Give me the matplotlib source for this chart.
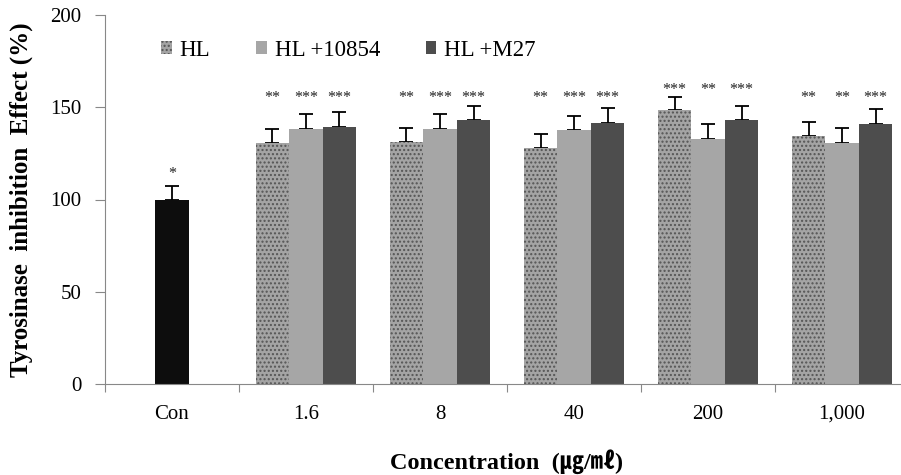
import matplotlib.pyplot as plt
import numpy as np

plt.rcParams['font.family'] = ['Liberation Serif', 'Noto Sans CJK KR', 'DejaVu Sans']

groups = ["Con", "1.6", "8", "40", "200", "1,000"]
con_val = 100
con_err = 7.5
con_star = "*"

series = ["HL", "HL +10854", "HL +M27"]
hl = [130.5, 131, 127.7, 148.5, 134.4]
hl_10854 = [138.2, 138.2, 137.7, 133, 130.5]
hl_m27 = [139.1, 143.1, 141.6, 143.1, 140.9]
hl_err = [7.8, 8, 7.8, 7.2, 7.8]
hl_10854_err = [8, 8, 7.7, 7.9, 8.4]
hl_m27_err = [8.5, 7.7, 8, 7.7, 8.1]
stars = [["**", "***", "***"],
         ["**", "***", "***"],
         ["**", "***", "***"],
         ["***", "**", "***"],
         ["**", "**", "***"]]

fig = plt.figure(figsize=(9.01, 4.75), dpi=100)
ax = fig.add_axes([0.1165, 0.1916, 0.8835, 0.7768])

w = 0.25
x = np.arange(1, len(groups))
ekw = dict(ecolor='black', elinewidth=1.3, capsize=5, capthick=1.3)

ax.bar(0, con_val, w, color='#0d0d0d', zorder=2)
ax.errorbar(0, con_val, yerr=[[0], [con_err]], fmt='none', **ekw, zorder=1)
ax.text(0, con_val + con_err + 2, con_star, ha='center', va='bottom',
        fontsize=11.5, color='#222222')

vals = [hl, hl_10854, hl_m27]
errs = [hl_err, hl_10854_err, hl_m27_err]
styles = [dict(color='#a4a4a4', hatch='....', edgecolor='#555555', linewidth=0),
          dict(color='#a6a6a6'),
          dict(color='#4d4d4d')]
for k in range(3):
    xs = x + (k - 1) * w
    ax.bar(xs, vals[k], w, label=series[k], zorder=2, **styles[k])
    ax.errorbar(xs, vals[k], yerr=[np.zeros(len(x)), errs[k]], fmt='none',
                **ekw, zorder=1)

tops = np.max(np.array(vals) + np.array(errs), axis=0)
for i in range(len(x)):
    sy = max(150.5, tops[i] - 0.5)
    for k in range(3):
        ax.text(x[i] + (k - 1) * w, sy, stars[i][k], ha='center', va='bottom',
                fontsize=11.5, color='#222222')

ax.set_ylim(0, 200)
ax.set_yticks([0, 50, 100, 150, 200])
ax.set_xlim(-0.5, 5.44)
ax.set_xticks(np.arange(-0.5, 5.5, 1))
ax.set_xticklabels([])
ax.set_xticks(np.arange(len(groups)), minor=True)
ax.set_xticklabels(groups, minor=True)
ax.tick_params(axis='x', which='minor', length=0, pad=15, labelsize=15)
ax.tick_params(axis='x', which='major', length=6, color='#888888')
ax.tick_params(axis='y', length=7, pad=10, labelsize=15, color='#888888')

for s in ['top', 'right']:
    ax.spines[s].set_visible(False)
for s in ['left', 'bottom']:
    ax.spines[s].set_color('#888888')

ax.set_ylabel("Tyrosinase  inhibition  Effect (%)", fontsize=18,
              fontweight='bold', va='center')
ax.yaxis.set_label_coords(-0.105, 0.5)
ax.set_xlabel("Concentration  (㎍/㎖)", fontsize=17.5, fontweight='bold',
              va='center')
ax.xaxis.set_label_coords(0.505, -0.211)

ax.legend(loc='center left', bbox_to_anchor=(0.045, 0.905), ncol=3,
          frameon=False, fontsize=16.5, handlelength=0.45, handleheight=0.45,
          handletextpad=0.35, columnspacing=2.0)

fig.savefig('out.png', dpi=100)
